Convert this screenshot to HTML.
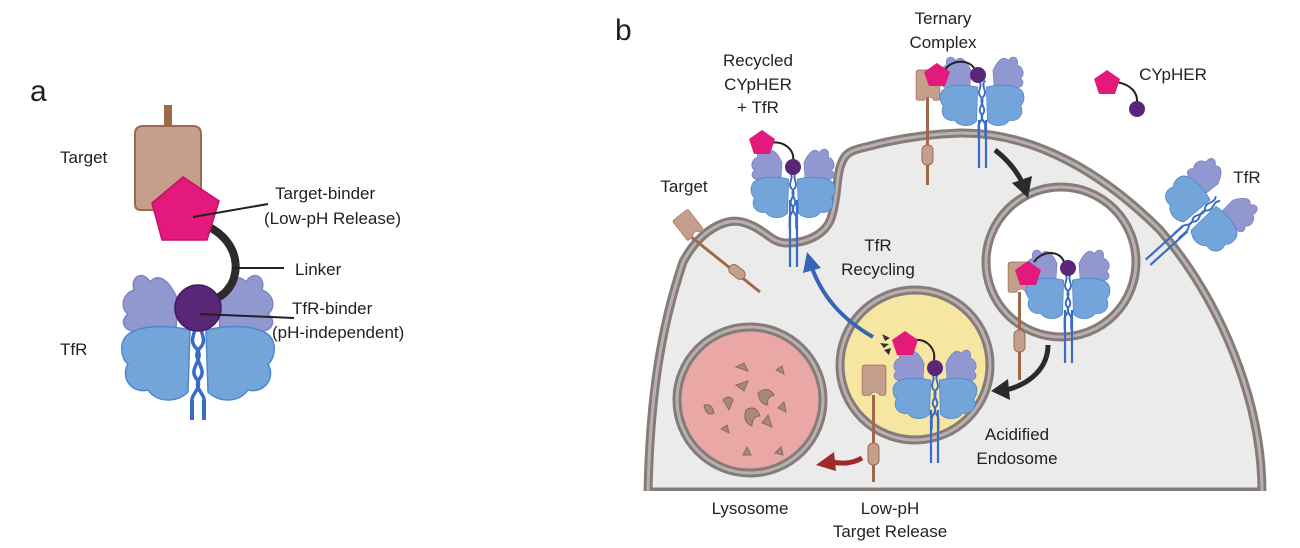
<!DOCTYPE html>
<html><head><meta charset="utf-8"><style>
html,body{margin:0;padding:0;background:#fff;}
svg{display:block;}
text{font-family:"Liberation Sans",Arial,sans-serif;fill:#231f20;}
</style></head><body>
<svg width="1300" height="548" viewBox="0 0 1300 548" xmlns="http://www.w3.org/2000/svg">
<defs>
<symbol id="tfr" overflow="visible">
  <path d="M-20,-8 C-30,-30 -40,-35 -48,-26 C-55,-38 -68,-32 -64,-18 C-76,-14 -78,0 -70,6 C-80,14 -72,26 -60,22 C-50,28 -35,26 -22,20 Z" fill="#9198d0" stroke="#7d84c2" stroke-width="1.5"/>
  <path d="M20,-8 C30,-30 40,-35 48,-26 C55,-38 68,-32 64,-18 C76,-14 78,0 70,6 C80,14 72,26 60,22 C50,28 35,26 22,20 Z" fill="#9198d0" stroke="#7d84c2" stroke-width="1.5"/>
  <path d="M-8,22 C-25,18 -50,16 -66,24 C-80,30 -78,50 -70,56 C-78,70 -66,86 -50,82 C-40,96 -20,94 -10,84 Z" fill="#74a5da" stroke="#4f86cc" stroke-width="1.5"/>
  <path d="M8,22 C25,18 50,16 66,24 C80,30 78,50 70,56 C78,70 66,86 50,82 C40,96 20,94 10,84 Z" fill="#74a5da" stroke="#4f86cc" stroke-width="1.5"/>
  <path d="M-6,10 C4,20 -12,30 -2,40 C8,50 -10,60 -2,70 C6,80 -8,86 -6,94" fill="none" stroke="#3b6cc4" stroke-width="3.5"/>
  <path d="M6,10 C-4,20 12,30 2,40 C-8,50 10,60 2,70 C-6,80 8,86 6,94" fill="none" stroke="#3b6cc4" stroke-width="3.5"/>
  <line x1="-6" y1="92" x2="-6" y2="112" stroke="#3b6cc4" stroke-width="4"/>
  <line x1="6" y1="92" x2="6" y2="112" stroke="#3b6cc4" stroke-width="4"/>
</symbol>
<symbol id="tgt" overflow="visible">
  <path d="M-33,8 Q-33,0 -25,0 L25,0 Q33,0 33,8 L33,78 Q33,84 27,84 L16,84 A14,14 0 0 0 -10,84 L-27,84 Q-33,84 -33,78 Z" fill="#c39f8c" stroke="#9b6a4e" stroke-width="2"/>
</symbol>
</defs>

<!-- ========== Panel a ========== -->
<text x="30" y="101" font-size="30">a</text>
<rect x="164" y="105" width="8" height="22" fill="#a0684b"/>
<use href="#tgt" x="168" y="126"/>
<use href="#tfr" x="198" y="308"/>
<path d="M205,225 C250,245 240,295 210,300" fill="none" stroke="#2b2b2b" stroke-width="8"/>
<polygon points="183,177 219,201 207,240 162,240 152,203" fill="#e3197b" stroke="#c41068" stroke-width="1.5"/>
<circle cx="198" cy="308" r="23" fill="#5a2778" stroke="#47195f" stroke-width="1.5"/>
<line x1="193" y1="217" x2="268" y2="204" stroke="#231f20" stroke-width="2"/>
<line x1="232" y1="268" x2="284" y2="268" stroke="#231f20" stroke-width="2"/>
<line x1="200" y1="314" x2="294" y2="318" stroke="#231f20" stroke-width="2"/>
<text x="60" y="163" font-size="17">Target</text>
<text x="275" y="199" font-size="17">Target-binder</text>
<text x="264" y="224" font-size="17">(Low-pH Release)</text>
<text x="295" y="275" font-size="17">Linker</text>
<text x="292" y="314" font-size="17">TfR-binder</text>
<text x="272" y="338" font-size="17">(pH-independent)</text>
<text x="60" y="355" font-size="17">TfR</text>

<!-- ========== Panel b ========== -->
<text x="615" y="40" font-size="30">b</text>

<path d="M648,492 C650,400 660,330 683,262 C700,230 725,218 742,222 C765,228 770,243 787,243 C810,243 828,232 832,215 C838,195 836,175 842,162 C846,152 852,150 870,146 C900,138 930,134 960,133 C1040,132 1110,180 1160,230 C1220,300 1262,400 1262,492 Z" fill="#ebebec" stroke="#857c7a" stroke-width="9"/>
<path d="M648,492 C650,400 660,330 683,262 C700,230 725,218 742,222 C765,228 770,243 787,243 C810,243 828,232 832,215 C838,195 836,175 842,162 C846,152 852,150 870,146 C900,138 930,134 960,133 C1040,132 1110,180 1160,230 C1220,300 1262,400 1262,492" fill="none" stroke="#b9b1af" stroke-width="3"/>
<rect x="630" y="491" width="650" height="60" fill="#fff"/>

<!-- upper endosome -->
<circle cx="1061" cy="262" r="75" fill="#fff" stroke="#857c7a" stroke-width="9"/>
<circle cx="1061" cy="262" r="75" fill="none" stroke="#b9b1af" stroke-width="3"/>
<!-- acidified endosome -->
<circle cx="915" cy="365" r="75" fill="#f6e6a2" stroke="#857c7a" stroke-width="9"/>
<circle cx="915" cy="365" r="75" fill="none" stroke="#b9b1af" stroke-width="3"/>
<!-- lysosome -->
<circle cx="750" cy="400" r="73" fill="#e9a8a6" stroke="#857c7a" stroke-width="9"/>
<circle cx="750" cy="400" r="73" fill="none" stroke="#b9b1af" stroke-width="3"/>
<g fill="#a8887a" stroke="#8a6a5c" stroke-width="1" transform="translate(18,15)">
<path d="M718,352 l8,-4 l4,8 z"/><path d="M740,378 q10,-8 16,2 q-8,2 -6,10 q-8,0 -10,-12z"/>
<path d="M705,385 q6,-6 10,0 l-4,10z"/><path d="M728,395 q10,-6 14,6 q-8,0 -8,10 q-10,-4 -6,-16z"/>
<path d="M686,390 q8,-2 10,8 q-8,4 -10,-8z"/><path d="M744,408 l6,-8 l4,12z"/>
<path d="M718,370 l12,-4 l-4,10z"/><path d="M760,393 l6,-6 l2,10z"/>
<path d="M725,440 l4,-8 l4,8z"/><path d="M703,414 l6,-4 l2,8z"/><path d="M757,438 l6,-6 l2,8z"/>
<path d="M758,355 l6,-4 l2,8z"/>
</g>

<!-- arrows -->
<path d="M995,150 C1008,160 1016,170 1022,182" fill="none" stroke="#2b2b2b" stroke-width="5"/>
<polygon points="1012,183 1032,176 1028,198" fill="#2b2b2b"/>
<path d="M1048,345 C1048,368 1030,384 1006,390" fill="none" stroke="#2b2b2b" stroke-width="5"/>
<polygon points="1008,379 991,391 1010,400" fill="#2b2b2b"/>
<path d="M873,337 C840,318 822,295 812,268" fill="none" stroke="#3566b4" stroke-width="4"/>
<polygon points="803,273 807,252 821,268" fill="#3566b4"/>
<path d="M862,458 C852,464 842,464 832,462" fill="none" stroke="#9e2a2a" stroke-width="5"/>
<polygon points="834,452 816,465 836,471" fill="#9e2a2a"/>

<!-- ternary complex -->
<rect x="926" y="95" width="3" height="90" fill="#a0684b"/>
<rect x="922" y="145" width="11" height="20" rx="5" fill="#c39f8c" stroke="#9b6a4e"/>
<use href="#tgt" transform="translate(928,70) scale(0.36)"/>
<line x1="979" y1="120" x2="979" y2="168" stroke="#3b6cc4" stroke-width="2.2"/>
<line x1="986" y1="120" x2="986" y2="168" stroke="#3b6cc4" stroke-width="2.2"/>
<use href="#tfr" transform="translate(982,75) scale(0.55)"/>
<path d="M945,70 C950,60 970,58 975,70" fill="none" stroke="#222" stroke-width="2"/>
<polygon points="937,63 950,72 945,86 929,86 924,72" fill="#e3197b"/>
<circle cx="978" cy="75" r="8" fill="#5a2778"/>

<!-- free CYpHER -->
<path d="M1116,82 C1130,84 1138,92 1137,103" fill="none" stroke="#222" stroke-width="2"/>
<polygon points="1107,70 1120,79 1115,94 1099,94 1094,79" fill="#e3197b"/>
<circle cx="1137" cy="109" r="8" fill="#5a2778"/>

<!-- recycled CYpHER + TfR -->
<line x1="790" y1="200" x2="790" y2="267" stroke="#3b6cc4" stroke-width="2.2"/>
<line x1="797" y1="200" x2="797" y2="267" stroke="#3b6cc4" stroke-width="2.2"/>
<use href="#tfr" transform="translate(793,167) scale(0.55)"/>
<path d="M768,143 C785,140 795,150 793,162" fill="none" stroke="#222" stroke-width="2"/>
<polygon points="762,130 775,139 770,154 754,154 749,139" fill="#e3197b"/>
<circle cx="793" cy="167" r="8" fill="#5a2778"/>

<!-- left target -->
<line x1="690" y1="236" x2="760" y2="292" stroke="#a0684b" stroke-width="3"/>
<g transform="translate(737,272) rotate(-52)"><rect x="-5" y="-9" width="10" height="18" rx="5" fill="#c39f8c" stroke="#9b6a4e"/></g>
<g transform="translate(680,215) rotate(-38)"><use href="#tgt" transform="scale(0.3)"/></g>

<!-- right free TfR -->
<g transform="translate(1222,195) rotate(48)">
<use href="#tfr" transform="scale(0.55)"/>
<line x1="-3" y1="50" x2="-3" y2="100" stroke="#3b6cc4" stroke-width="2.2"/>
<line x1="4" y1="50" x2="4" y2="100" stroke="#3b6cc4" stroke-width="2.2"/>
</g>

<!-- inside upper endosome -->
<rect x="1018" y="292" width="3" height="88" fill="#a0684b"/>
<rect x="1014" y="330" width="11" height="22" rx="5" fill="#c39f8c" stroke="#9b6a4e"/>
<use href="#tgt" transform="translate(1020,262) scale(0.36)"/>
<line x1="1065" y1="310" x2="1065" y2="363" stroke="#3b6cc4" stroke-width="2.2"/>
<line x1="1072" y1="310" x2="1072" y2="363" stroke="#3b6cc4" stroke-width="2.2"/>
<use href="#tfr" transform="translate(1068,268) scale(0.55)"/>
<path d="M1034,262 C1042,250 1060,250 1064,262" fill="none" stroke="#222" stroke-width="2"/>
<polygon points="1028,261 1041,270 1036,285 1020,285 1015,270" fill="#e3197b"/>
<circle cx="1068" cy="268" r="8" fill="#5a2778"/>

<!-- inside acidified endosome -->
<rect x="872" y="395" width="3" height="87" fill="#a0684b"/>
<rect x="868" y="443" width="11" height="22" rx="5" fill="#c39f8c" stroke="#9b6a4e"/>
<use href="#tgt" transform="translate(874,365) scale(0.36)"/>
<line x1="931" y1="410" x2="931" y2="463" stroke="#3b6cc4" stroke-width="2.2"/>
<line x1="938" y1="410" x2="938" y2="463" stroke="#3b6cc4" stroke-width="2.2"/>
<use href="#tfr" transform="translate(935,368) scale(0.55)"/>
<path d="M913,340 C928,338 936,350 934,360" fill="none" stroke="#222" stroke-width="2"/>
<polygon points="905,331 918,340 913,355 897,355 892,340" fill="#e3197b"/>
<circle cx="935" cy="368" r="8" fill="#5a2778"/>
<g fill="#333"><polygon points="882,334 890,338 885,341"/><polygon points="880,343 889,344 884,348"/><polygon points="884,350 891,348 889,355"/></g>

<!-- labels panel b -->
<g font-size="17" text-anchor="middle">
<text x="943" y="24">Ternary</text>
<text x="943" y="48">Complex</text>
<text x="758" y="66">Recycled</text>
<text x="758" y="90">CYpHER</text>
<text x="758" y="113">+ TfR</text>
<text x="1173" y="80">CYpHER</text>
<text x="684" y="192">Target</text>
<text x="1247" y="183">TfR</text>
<text x="878" y="251">TfR</text>
<text x="878" y="275">Recycling</text>
<text x="1017" y="440">Acidified</text>
<text x="1017" y="464">Endosome</text>
<text x="750" y="514">Lysosome</text>
<text x="890" y="514">Low-pH</text>
<text x="890" y="537">Target Release</text>
</g>
</svg>
</body></html>
